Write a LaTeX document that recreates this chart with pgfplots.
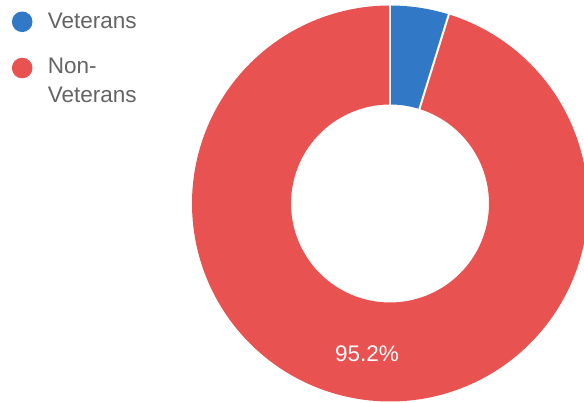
\documentclass[border=0pt]{standalone}
\usepackage{fontspec}
\setmainfont{Liberation Sans}
\usepackage{pgfplots}
\usepackage{pgfplotstable}
\pgfplotsset{compat=1.18}
\definecolor{vblue}{RGB}{49,120,198}
\definecolor{vred}{RGB}{232,82,80}
\definecolor{lgray}{RGB}{100,100,100}
\pgfplotstableread{
label value
Veterans 4.8
Non-Veterans 95.2
}\datatable
\def\cx{390}\def\cy{-203.5}\def\rmid{148.5}\def\rwid{99}
\begin{document}%
\begin{tikzpicture}
\pgfplotstablegetelem{0}{value}\of\datatable \let\vA\pgfplotsretval
\pgfplotstablegetelem{1}{value}\of\datatable \let\vB\pgfplotsretval
\pgfmathsetmacro\aS{90}
\pgfmathsetmacro\aA{90-3.6*\vA}
\pgfmathsetmacro\aB{\aA-3.6*\vB}
\begin{axis}[overlay, at={(0pt,0pt)}, anchor=south west, width=584pt, height=403pt, scale only axis,
 xmin=0, xmax=584, ymin=-403, ymax=0, enlargelimits=false, hide axis, clip=true,
 xtick=\empty, ytick=\empty,
 legend style={at={(axis cs:9.7,-3)}, anchor=north west, draw=none, fill=none,
   font=\fontsize{22.5}{28.7}\selectfont, text=lgray, row sep=24.2pt, inner sep=0pt,
   cells={align=left, anchor=base west, inner sep=0pt}, column sep=0pt},
 legend cell align=left
]
\addplot[vblue, line width=\rwid pt, domain=\aA:\aS, samples=40, variable=\t,
  legend image code/.code={\path[draw=none, fill=none] (0pt,-2.3pt) rectangle (36pt,18.3pt); \fill[vblue, draw=none, line width=0pt, overlay] (12.3pt,-0.3pt) circle[radius=10.3pt];}]
  ({\cx+\rmid*cos(\t)},{\cy+\rmid*sin(\t)});
\addlegendentry{Veterans}
\addplot[vred, line width=\rwid pt, domain=\aB:\aA, samples=300, variable=\t,
  legend image code/.code={\path[draw=none, fill=none] (0pt,-5.3pt) rectangle (36pt,15.3pt); \fill[vred, draw=none, line width=0pt, overlay] (12.3pt,13pt) circle[radius=10.3pt];}]
  ({\cx+\rmid*cos(\t)},{\cy+\rmid*sin(\t)});
\addlegendentry{Non-\\Veterans}
\addplot[white, line width=2pt, domain=97:200, samples=2, variable=\t, forget plot]
  ({\cx+\t*cos(\aS)},{\cy+\t*sin(\aS)});
\addplot[white, line width=2pt, domain=97:200, samples=2, variable=\t, forget plot]
  ({\cx+\t*cos(\aA)},{\cy+\t*sin(\aA)});
\node[text=white, font=\fontsize{22.5}{26}\selectfont] at (axis cs:367,-354) {95.2\%};
\end{axis}
\path (0pt,0pt) rectangle (584pt,403pt);
\end{tikzpicture}%
\end{document}
